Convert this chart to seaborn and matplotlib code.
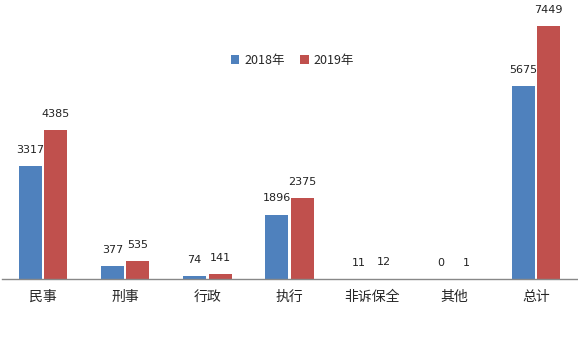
import matplotlib
matplotlib.use("Agg")
import matplotlib.pyplot as plt
import seaborn as sns
import pandas as pd

categories = ["民事", "刑事", "行政", "执行", "非诉保全", "其他", "总计"]
values_2018 = [3317, 377, 74, 1896, 11, 0, 5675]
values_2019 = [4385, 535, 141, 2375, 12, 1, 7449]
series = ["2018年", "2019年"]
colors = ["#4F81BD", "#C0504D"]

sns.set_theme(style="white")
plt.rcParams['font.family'] = ['Noto Sans CJK SC', 'DejaVu Sans']

df = pd.DataFrame({
    "category": categories * 2,
    "value": values_2018 + values_2019,
    "year": [series[0]] * len(categories) + [series[1]] * len(categories),
})

fig = plt.figure(figsize=(5.78, 3.57), dpi=100)
ax = fig.add_axes([2 / 578, (357 - 279) / 357, 575 / 578, (279 - 7) / 357])
sns.barplot(data=df, x="category", y="value", hue="year", palette=colors,
            width=0.62, gap=0.1, ax=ax, saturation=1, linewidth=0)
ax.set_ylim(0, 8000)
ax.set_xlim(-0.5, len(categories) - 0.5)
for c in ax.containers:
    ax.bar_label(c, labels=[f"{int(v)}" for v in c.datavalues], padding=8,
                 fontsize=8, family="DejaVu Sans", color="#222222")
ax.set_xlabel("")
ax.set_ylabel("")
ax.set_yticks([])
ax.tick_params(axis="x", length=0, pad=8, labelsize=10)
for s in ["top", "right", "left"]:
    ax.spines[s].set_visible(False)
ax.spines["bottom"].set_color("#888888")
ax.spines["bottom"].set_linewidth(1)
leg = ax.legend(loc="upper center", bbox_to_anchor=(0.505, 0.87), ncol=2, frameon=False,
                fontsize=9, handlelength=0.7, handleheight=0.7, columnspacing=1.2,
                handletextpad=0.4)
for t in leg.get_texts():
    t.set_family(['Noto Sans CJK SC', 'DejaVu Sans'])
fig.savefig("out.png", dpi=100)
